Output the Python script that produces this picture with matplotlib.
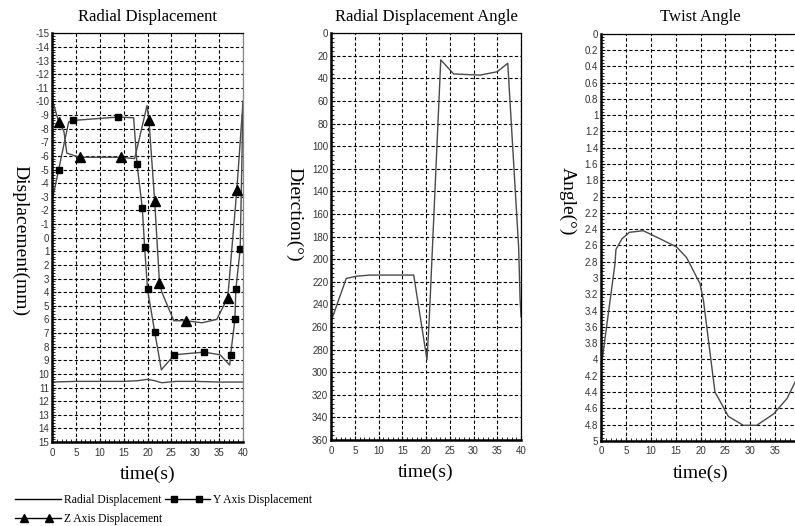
import numpy as np
import matplotlib
matplotlib.use("Agg")
import matplotlib.pyplot as plt
from matplotlib.ticker import MultipleLocator, FuncFormatter
from matplotlib.lines import Line2D
from matplotlib.legend_handler import HandlerBase

# ---- данные ----
# Radial Displacement (левый график)
radial_t = [0, 5, 10, 15, 18, 20, 21.5, 23, 26, 30, 35, 40]
radial_v = [10.6, 10.55, 10.55, 10.55, 10.5, 10.4, 10.5, 10.65, 10.55, 10.55, 10.6, 10.6]

# Y Axis Displacement
y_t = [0, 1.4, 3.5, 4.3, 13.8, 17.1, 17.8, 18.9, 19.4, 20.0, 21.5, 22.9, 25.6,
       31.8, 35.2, 37.2, 37.4, 38.3, 38.5, 39.4, 40]
y_v = [-2.7, -5.0, -8.5, -8.6, -8.85, -8.8, -5.4, -2.2, 0.7, 3.8, 6.9, 9.7, 8.6,
       8.4, 8.6, 9.35, 8.6, 6.0, 3.8, 0.85, -10]
y_marks = [1, 3, 4, 6, 7, 8, 9, 10, 12, 13, 16, 17, 18, 19]

# Z Axis Displacement
z_t = [0, 1.4, 2.5, 3.1, 5.8, 14.4, 17.3, 19.9, 20.3, 21.5, 22.5, 23.0, 25.5,
       28.1, 31.4, 34.5, 36.8, 38.7, 40]
z_v = [-10.2, -8.5, -7.8, -6.2, -5.9, -5.9, -5.8, -9.7, -8.6, -2.7, 3.3, 4.0, 6.1,
       6.1, 6.25, 6.0, 4.4, -3.5, -10]
z_marks = [1, 4, 5, 8, 9, 10, 13, 16, 17]

# Radial Displacement Angle (средний)
dir_t = [0, 3.2, 5.4, 8.2, 17.4, 20.2, 20.7, 23.1, 25.8, 31.4, 35.0, 37.2, 39.5, 39.8, 40]
dir_v = [255, 217, 215, 214, 214, 289, 251, 23.5, 36, 37, 34, 26.5, 190, 236, 251]

# Twist Angle (правый)
tw_t = [0, 2.8, 3.0, 4.2, 5.7, 8.5, 11.9, 15.2, 17.2, 19.9, 20.6, 22.9, 25.6,
        28.6, 31.3, 34.7, 37.4, 39.0, 40]
tw_v = [4.11, 2.83, 2.65, 2.52, 2.44, 2.42, 2.52, 2.62, 2.75, 3.07, 3.28, 4.40, 4.70,
        4.81, 4.81, 4.67, 4.48, 4.28, 4.2]

SERIF = "Liberation Serif"
SANS = "Liberation Sans"
LINE_C = "#4a4a4a"


class InsetMarkerHandler(HandlerBase):
    """Линия на всю длину, маркеры чуть отступают от концов (как в Excel)."""
    def create_artists(self, legend, orig_handle, xdescent, ydescent,
                       width, height, fontsize, trans):
        y = (height - ydescent) / 2
        x0 = -xdescent
        x1 = -xdescent + width
        xs = [x0, x0 + 0.2 * width, x1 - 0.25 * width, x1]
        line = Line2D(xs, [y] * 4, color=orig_handle.get_color(),
                      lw=orig_handle.get_linewidth(),
                      marker=orig_handle.get_marker(),
                      ms=orig_handle.get_markersize(),
                      mfc="black", mec="black")
        if orig_handle.get_marker() not in (None, "None", ""):
            line.set_markevery([1, 2])
        line.set_transform(trans)
        return [line]


fig = plt.figure(figsize=(7.95, 5.26), dpi=100)

ax1 = fig.add_axes([0.0654, 0.1597, 0.2403, 0.777])
ax2 = fig.add_axes([0.4164, 0.1635, 0.2390, 0.7732])
ax3 = fig.add_axes([0.7560, 0.1620, 0.2503, 0.7740])

tick_fmt = FuncFormatter(lambda v, p: "%g" % (round(v, 6) + 0.0))


def style_axes(ax, ymin, ymax, ystep, yminor, title, ylabel, lab_x, lab_y):
    ax.set_xlim(0, 40)
    ax.set_ylim(ymax, ymin)
    ax.xaxis.set_major_locator(MultipleLocator(5))
    ax.xaxis.set_minor_locator(MultipleLocator(1))
    ax.yaxis.set_major_locator(MultipleLocator(ystep))
    ax.yaxis.set_minor_locator(MultipleLocator(yminor))
    ax.yaxis.set_major_formatter(tick_fmt)
    ax.grid(True, which="major", color="black", linestyle=(0, (3, 2)), linewidth=0.8)
    ax.tick_params(which="both", direction="in", labelsize=7, labelcolor="#333333")
    ax.tick_params(axis="x", pad=4)
    ax.tick_params(axis="y", pad=2)
    ax.tick_params(which="major", length=3, width=0.8)
    ax.tick_params(which="minor", length=2, width=0.6)
    for lab in ax.get_xticklabels() + ax.get_yticklabels():
        lab.set_family(SANS)
    for s in ["left", "bottom"]:
        ax.spines[s].set_linewidth(1.8)
    for s in ["top", "right"]:
        ax.spines[s].set_linewidth(0.9)
    ax.set_title(title, family=SERIF, fontsize=12, pad=9)
    ax.set_xlabel("time(s)", family=SERIF, fontsize=14, labelpad=6)
    ax.set_ylabel(ylabel, family=SERIF, fontsize=14, rotation=270,
                  ha="left", va="center")
    ax.yaxis.set_label_coords(lab_x, lab_y)


style_axes(ax1, -15, 15, 1, 0.2, "Radial Displacement", "Displacement(mm)",
           -0.168, 0.678)
ax1.spines["right"].set_color("#888888")
ax1.plot(radial_t, radial_v, color=LINE_C, lw=1.0)
ax1.plot(y_t, y_v, color=LINE_C, lw=1.0, marker="s", ms=5, mfc="black",
         mec="black", markevery=y_marks)
ax1.plot(z_t, z_v, color=LINE_C, lw=1.0, marker="^", ms=7, mfc="black",
         mec="black", markevery=z_marks)

style_axes(ax2, 0, 360, 20, 4, "Radial Displacement Angle", "Dierction(°)",
           -0.195, 0.671)
ax2.plot(dir_t, dir_v, color=LINE_C, lw=1.0)

style_axes(ax3, 0, 5, 0.2, 0.04, "Twist Angle", "Angle(°)", -0.171, 0.672)
ax3.plot(tw_t, tw_v, color=LINE_C, lw=1.0)

# легенда внизу слева (порядок: по столбцам -> строки как в оригинале)
h_rad = Line2D([], [], color="black", lw=1.0)
h_y = Line2D([], [], color="black", lw=1.0, marker="s", ms=4)
h_z = Line2D([], [], color="black", lw=1.0, marker="^", ms=6)
fig.legend([h_rad, h_z, h_y],
           ["Radial Displacement", "Z Axis Displacement", "Y Axis Displacement"],
           handler_map={Line2D: InsetMarkerHandler()},
           loc="lower left", bbox_to_anchor=(0.008, -0.015), ncol=2, frameon=False,
           handlelength=3.9, handletextpad=0.25, columnspacing=0.25,
           labelspacing=0.6, borderpad=0.25,
           prop={"family": SERIF, "size": 8.4})

fig.savefig("out.png", dpi=100)
